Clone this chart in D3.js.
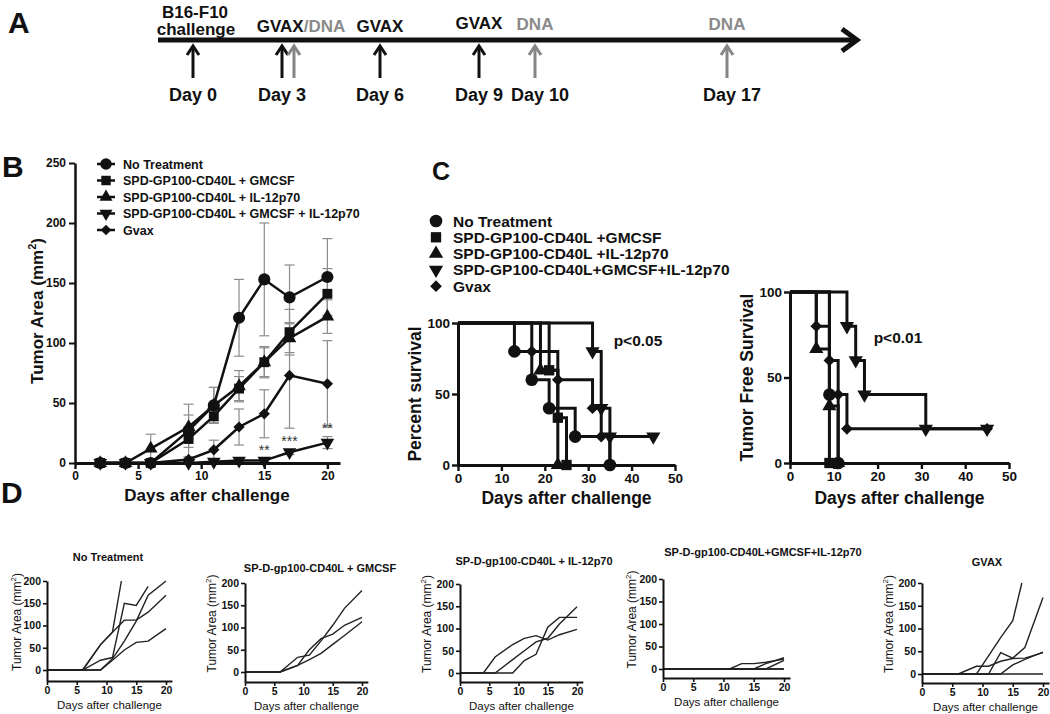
<!DOCTYPE html>
<html>
<head>
<meta charset="utf-8">
<script src="https://cdnjs.cloudflare.com/ajax/libs/d3/7.8.5/d3.min.js"></script>
<style>
  body { margin: 0; background: #fff; }
  text { font-family: "Liberation Sans", Arial, sans-serif; }
</style>
</head>
<body>
<svg id="fig" width="1050" height="714"></svg>
<script>
// ---------- A: schedule ----------
var scheduleDays = [0, 3, 6, 9, 10, 17];
var scheduleLabels = ["Day 0", "Day 3", "Day 6", "Day 9", "Day 10", "Day 17"];
var challengeDays = [0];
var gvaxDays = [3, 6, 9];
var dnaDays = [3, 10, 17];

// ---------- B: mean tumor area (mm2) and SEM ----------
var bDays = [2, 4, 6, 9, 11, 13, 15, 17, 20];
var bNoTreatment = [0, 0, 0, 27, 48, 121, 153, 138, 155];
var bNoTreatmentErr = [0, 0, 0, 22, 15, 32, 47, 27, 32];
var bGmcsf = [0, 0, 0, 20, 39, 62, 84, 109, 141];
var bGmcsfErr = [0, 0, 0, 7, 5, 10, 13, 19, 21];
var bIl12 = [0, 0, 12, 30, 48, 64, 84, 104, 122];
var bIl12Err = [0, 0, 12, 10, 15, 13, 12, 12, 14];
var bGmcsfIl12 = [0, 0, 0, 0, 1, 2, 2, 9, 17];
var bGmcsfIl12Err = [0, 0, 0, 0, 1, 1, 1, 2, 5];
var bGvax = [0, 0, 0, 3, 11, 30, 41, 73, 66];
var bGvaxErr = [0, 0, 0, 2, 8, 15, 20, 44, 36];
var bLegend = ["No Treatment", "SPD-GP100-CD40L + GMCSF", "SPD-GP100-CD40L + IL-12p70",
  "SPD-GP100-CD40L + GMCSF + IL-12p70", "Gvax"];
var bStarDays = [15, 17, 20];
var bStars = ["**", "***", "**"];

// ---------- C: survival (day, percent) ----------
var cLegend = ["No Treatment", "SPD-GP100-CD40L +GMCSF", "SPD-GP100-CD40L +IL-12p70",
  "SPD-GP100-CD40L+GMCSF+IL-12p70", "Gvax"];
var osNoTreatment = [[0, 100], [13, 80], [17, 60], [21, 40], [27, 20], [35, 0]];
var osGmcsf = [[0, 100], [21, 66.7], [23, 33.3], [25, 0]];
var osIl12 = [[0, 100], [19, 66.7], [23, 0]];
var osGmcsfIl12 = [[0, 100], [31, 80], [33, 40], [35, 20], [45, 20]];
var osGvax = [[0, 100], [17, 80], [23, 60], [31, 40], [33, 20], [35, 0]];
var tfNoTreatment = [[0, 100], [9, 40], [11, 0]];
var tfGmcsf = [[0, 100], [9, 0]];
var tfIl12 = [[0, 100], [6, 66.7], [9, 33.3], [11, 0]];
var tfGmcsfIl12 = [[0, 100], [13, 80], [15, 60], [17, 40], [31, 20], [45, 20]];
var tfGvax = [[0, 100], [6, 80], [9, 60], [11, 40], [13, 20], [45, 20]];
var pLeft = "p<0.05";
var pRight = "p<0.01";

// ---------- D: individual mice (day, mm2) ----------
var dTitles = ["No Treatment", "SP-D-gp100-CD40L + GMCSF", "SP-D-gp100-CD40L + IL-12p70",
  "SP-D-gp100-CD40L+GMCSF+IL-12p70", "GVAX"];
var dNoTreatment = [
  [[0, 0], [6, 0], [9, 57], [11, 85], [12.5, 200]],
  [[0, 0], [6, 0], [9, 57], [11, 85], [13, 112], [15, 112], [17, 130], [20, 168]],
  [[0, 0], [6, 0], [9, 22], [11, 28], [13, 150], [15, 145], [17, 188]],
  [[0, 0], [9, 0], [11, 25], [13, 65], [15, 110], [17, 168], [20, 200]],
  [[0, 0], [9, 0], [11, 22], [13, 45], [15, 62], [17, 65], [20, 93]]
];
var dGmcsf = [
  [[0, 0], [6, 0], [9, 33], [11, 38], [13, 70], [15, 105], [17, 143], [20, 183]],
  [[0, 0], [6, 0], [9, 15], [11, 50], [13, 75], [15, 85], [17, 105], [20, 123]],
  [[0, 0], [6, 0], [9, 15], [11, 28], [13, 42], [15, 62], [17, 82], [20, 113]]
];
var dIl12 = [
  [[0, 0], [4, 0], [6, 36], [9, 64], [11, 78], [13, 84], [15, 74], [17, 86], [20, 98]],
  [[0, 0], [6, 0], [9, 30], [11, 50], [13, 70], [15, 78], [17, 110], [20, 149]],
  [[0, 0], [9, 0], [11, 28], [13, 42], [15, 103], [17, 125], [20, 125]]
];
var dGmcsfIl12 = [
  [[0, 0], [11, 0], [13, 12], [15, 12], [17, 15], [20, 22]],
  [[0, 0], [15, 0], [17, 12], [20, 25]],
  [[0, 0], [17, 0], [20, 19]],
  [[0, 0], [20, 0]],
  [[0, 0], [20, 0]]
];
var dGvax = [
  [[0, 0], [9, 0], [11, 40], [13, 80], [15, 117], [16.5, 200]],
  [[0, 0], [11, 0], [13, 47], [15, 35], [17, 58], [20, 168]],
  [[0, 0], [6, 0], [9, 17], [11, 17], [13, 28], [15, 34], [17, 35], [20, 47]],
  [[0, 0], [13, 0], [15, 20], [17, 32], [20, 48]],
  [[0, 0], [20, 0]]
];

var INK = "#111";
var GRAY = "#8c8c8c";
var svg = d3.select("#fig");

function txt(g, x, y, s, size, opts) {
  opts = opts || {};
  return g.append("text")
    .attr("x", x).attr("y", y)
    .attr("text-anchor", opts.anchor || "start")
    .attr("font-size", size)
    .attr("font-weight", opts.weight || "bold")
    .attr("fill", opts.fill || INK)
    .text(s);
}

function marker(g, kind, x, y, size) {
  var type = kind === "circle" ? d3.symbolCircle : (kind === "tri" || kind === "down") ? d3.symbolTriangle : d3.symbolSquare;
  var rot = kind === "down" ? 180 : kind === "diamond" ? 45 : 0;
  var s = kind === "diamond" ? size * 0.55 : (kind === "tri" || kind === "down") ? size * 0.7 : kind === "square" ? size * 0.85 : size;
  g.append("path")
    .attr("d", d3.symbol(type, s)())
    .attr("transform", "translate(" + x + "," + y + ") rotate(" + rot + ")")
    .attr("fill", INK);
}

function styleAxis(g, size, width) {
  g.attr("font-family", null).attr("font-size", size).attr("font-weight", "bold");
  g.select(".domain").attr("stroke", INK).attr("stroke-width", width);
  g.selectAll(".tick line").attr("stroke", INK).attr("stroke-width", width * 0.8);
  g.selectAll(".tick text").attr("fill", INK);
}

function rotLabel(g, x, y, size, weight, main, sup, tail) {
  var t = g.append("text")
    .attr("transform", "translate(" + x + "," + y + ") rotate(-90)")
    .attr("text-anchor", "middle")
    .attr("font-size", size)
    .attr("font-weight", weight)
    .attr("fill", INK);
  t.append("tspan").text(main);
  if (sup) {
    t.append("tspan").attr("dy", -size * 0.4).attr("font-size", size * 0.65).text(sup);
    t.append("tspan").attr("dy", size * 0.4).text(tail);
  }
  return t;
}

// panel letters
txt(svg, 8, 33, "A", 30);
txt(svg, 2, 177, "B", 30);
txt(svg, 432, 180, "C", 25);
txt(svg, 1, 503, "D", 30);

// ================= A =================
var gA = svg.append("g");
var tx = d3.scaleLinear().domain(scheduleDays).range([193, 282, 380, 479, 535, 727]);

gA.append("line").attr("x1", 158).attr("x2", 855).attr("y1", 40).attr("y2", 40)
  .attr("stroke", INK).attr("stroke-width", 5);
gA.append("path").attr("d", "M842,29L857,40L842,51").attr("fill", "none")
  .attr("stroke", INK).attr("stroke-width", 5);

function upArrow(x, color) {
  gA.append("line").attr("x1", x).attr("x2", x).attr("y1", 78).attr("y2", 46)
    .attr("stroke", color).attr("stroke-width", 3);
  gA.append("path").attr("d", "M" + (x - 6) + ",55L" + x + ",46L" + (x + 6) + ",55")
    .attr("fill", "none").attr("stroke", color).attr("stroke-width", 3);
}
challengeDays.concat(gvaxDays).forEach(function (d) { upArrow(tx(d), INK); });
dnaDays.forEach(function (d) {
  upArrow(tx(d) + (gvaxDays.indexOf(d) >= 0 ? 12 : 0), "#858585");
});

scheduleDays.forEach(function (d, i) {
  txt(gA, tx(d) - 24, 101, scheduleLabels[i], 18);
});
txt(gA, tx(0) + 2, 18, "B16-F10", 17, { anchor: "middle" });
txt(gA, tx(0) + 3, 35, "challenge", 17, { anchor: "middle" });
gvaxDays.forEach(function (d) {
  var both = dnaDays.indexOf(d) >= 0;
  var t = txt(gA, tx(d) + (both ? 19 : 0), d === 9 ? 29 : 32, "", 17, { anchor: "middle" });
  t.append("tspan").text("GVAX");
  if (both) t.append("tspan").attr("fill", "#8a8a8a").text("/DNA");
});
dnaDays.forEach(function (d) {
  if (gvaxDays.indexOf(d) >= 0) return;
  txt(gA, tx(d), 30, "DNA", 17, { anchor: "middle", fill: "#8a8a8a" });
});

// ================= B =================
var gB = svg.append("g");
var bx = d3.scaleLinear().domain([0, 21]).range([75, 340]);
var by = d3.scaleLinear().domain([0, 250]).range([463, 163]);
var bSeries = [
  { v: bNoTreatment, e: bNoTreatmentErr, k: "circle" },
  { v: bGmcsf, e: bGmcsfErr, k: "square" },
  { v: bIl12, e: bIl12Err, k: "tri" },
  { v: bGmcsfIl12, e: bGmcsfIl12Err, k: "down" },
  { v: bGvax, e: bGvaxErr, k: "diamond" }
];

// error bars
bSeries.forEach(function (s) {
  bDays.forEach(function (d, i) {
    if (!s.e[i]) return;
    var x = bx(d), y1 = by(Math.max(0, s.v[i] - s.e[i])), y2 = by(s.v[i] + s.e[i]);
    gB.append("line").attr("x1", x).attr("x2", x).attr("y1", y1).attr("y2", y2)
      .attr("stroke", GRAY).attr("stroke-width", 1.2);
    [y1, y2].forEach(function (y) {
      gB.append("line").attr("x1", x - 5).attr("x2", x + 5).attr("y1", y).attr("y2", y)
        .attr("stroke", GRAY).attr("stroke-width", 1.2);
    });
  });
});

var bLine = d3.line()
  .x(function (d) { return bx(d[0]); })
  .y(function (d) { return by(d[1]); });
bSeries.forEach(function (s) {
  gB.append("path")
    .datum(bDays.map(function (d, i) { return [d, s.v[i]]; }))
    .attr("d", bLine)
    .attr("fill", "none").attr("stroke", INK).attr("stroke-width", 2.5);
});
bSeries.forEach(function (s) {
  bDays.forEach(function (d, i) { marker(gB, s.k, bx(d), by(s.v[i]), 115); });
});

var bxa = gB.append("g").attr("transform", "translate(0,463)")
  .call(d3.axisBottom(bx).tickValues([0, 5, 10, 15, 20]).tickSize(6).tickSizeOuter(0).tickPadding(2));
styleAxis(bxa, 12, 3);
var bya = gB.append("g").attr("transform", "translate(75,0)")
  .call(d3.axisLeft(by).tickValues([0, 50, 100, 150, 200, 250]).tickSize(6).tickSizeOuter(0).tickPadding(3));
styleAxis(bya, 12, 2.5);

rotLabel(gB, 43, 311, 17, "bold", "Tumor Area (mm", "2", ")");
txt(gB, 207, 501, "Days after challenge", 17, { anchor: "middle" });

bStarDays.forEach(function (d, i) {
  var j = bDays.indexOf(d);
  txt(gB, bx(d), by(bGmcsfIl12[j] + bGmcsfIl12Err[j]) - 4, bStars[i], 14, { anchor: "middle", weight: "normal", fill: "#333" });
});

bLegend.forEach(function (name, i) {
  var y = 164 + i * 16.5;
  gB.append("line").attr("x1", 97).attr("x2", 115).attr("y1", y).attr("y2", y)
    .attr("stroke", INK).attr("stroke-width", 2.5);
  marker(gB, bSeries[i].k, 106, y, 105);
  txt(gB, 123, y + 4.5, name, 12.5);
});

// ================= C =================
var gC = svg.append("g");
var cKinds = ["circle", "square", "tri", "down", "diamond"];

function survival(x0, x1, y0, y1, curves, yTitle, pText, pX, pY) {
  var sx = d3.scaleLinear().domain([0, 50]).range([x0, x1]);
  var sy = d3.scaleLinear().domain([0, 100]).range([y0, y1]);
  var step = d3.line().curve(d3.curveStepAfter)
    .x(function (d) { return sx(d[0]); })
    .y(function (d) { return sy(d[1]); });
  curves.forEach(function (c) {
    gC.append("path").datum(c).attr("d", step)
      .attr("fill", "none").attr("stroke", INK).attr("stroke-width", 3);
  });
  curves.forEach(function (c, k) {
    c.slice(1).forEach(function (p) { marker(gC, cKinds[k], sx(p[0]), sy(p[1]), 125); });
  });
  var xa = gC.append("g").attr("transform", "translate(0," + y0 + ")")
    .call(d3.axisBottom(sx).tickValues([0, 10, 20, 30, 40, 50]).tickSize(6).tickSizeOuter(0).tickPadding(2));
  styleAxis(xa, 13.5, 3);
  var ya = gC.append("g").attr("transform", "translate(" + x0 + ",0)")
    .call(d3.axisLeft(sy).tickValues([0, 50, 100]).tickSize(6).tickSizeOuter(0).tickPadding(2));
  styleAxis(ya, 13.5, 3);
  txt(gC, (x0 + x1) / 2, 504, "Days after challenge", 17.5, { anchor: "middle" });
  rotLabel(gC, x0 - 37, (y0 + y1) / 2, 17.5, "bold", yTitle);
  txt(gC, pX, pY, pText, 15.5, { anchor: "middle" });
}

survival(458, 675, 465, 323, [osNoTreatment, osGmcsf, osIl12, osGmcsfIl12, osGvax],
  "Percent survival", pLeft, 638, 346);
survival(790, 1009, 463, 292, [tfNoTreatment, tfGmcsf, tfIl12, tfGmcsfIl12, tfGvax],
  "Tumor Free Survival", pRight, 898, 343);

cLegend.forEach(function (name, i) {
  var y = 221 + i * 16.3;
  marker(gC, cKinds[i], 436, y, 125);
  txt(gC, 453, y + 5.5, name, 15.5);
});

// ================= D =================
var gD = svg.append("g");
var dPanels = [dNoTreatment, dGmcsf, dIl12, dGmcsfIl12, dGvax];
var dLayout = [
  { ax: 47, x20: 166, y200: 581, y0: 670, xa: 681, tx: 108, ty: 561, lx: 21 },
  { ax: 245, x20: 362, y200: 583, y0: 672, xa: 682, tx: 320, ty: 572, lx: 216 },
  { ax: 460, x20: 577, y200: 584, y0: 673, xa: 682, tx: 534, ty: 565, lx: 431 },
  { ax: 663, x20: 784, y200: 579, y0: 669, xa: 678, tx: 763, ty: 556, lx: 636 },
  { ax: 922, x20: 1043, y200: 583, y0: 674, xa: 683, tx: 987, ty: 566, lx: 893 }
];

dPanels.forEach(function (mice, i) {
  var L = dLayout[i];
  var g = gD.append("g");
  var x = d3.scaleLinear().domain([0, 21]).range([L.ax, L.ax + (L.x20 - L.ax) * 21 / 20]);
  var y = d3.scaleLinear().domain([0, 200]).range([L.y0, L.y200]);
  y.domain([y.invert(L.xa), 200]).range([L.xa, L.y200]);
  var line = d3.line()
    .x(function (d) { return x(d[0]); })
    .y(function (d) { return y(d[1]); });
  mice.forEach(function (m) {
    g.append("path").datum(m).attr("d", line)
      .attr("fill", "none").attr("stroke", "#222").attr("stroke-width", 1.4);
  });
  var xa = g.append("g").attr("transform", "translate(0," + L.xa + ")")
    .call(d3.axisBottom(x).tickValues([0, 5, 10, 15, 20]).tickSize(4).tickSizeOuter(0).tickPadding(2));
  styleAxis(xa, 10.5, 2);
  var ya = g.append("g").attr("transform", "translate(" + L.ax + ",0)")
    .call(d3.axisLeft(y).tickValues([0, 50, 100, 150, 200]).tickSize(4).tickSizeOuter(0).tickPadding(2));
  styleAxis(ya, 10.5, 2);
  txt(g, L.tx, L.ty, dTitles[i], 11, { anchor: "middle" });
  txt(g, (L.ax + x(21)) / 2, L.xa + 28, "Days after challenge", 11.5, { anchor: "middle", weight: "normal" });
  rotLabel(g, L.lx, (L.y200 + L.xa) / 2 - 9, 12, "normal", "Tumor Area (mm", "2", ")");
});
</script>
</body>
</html>
